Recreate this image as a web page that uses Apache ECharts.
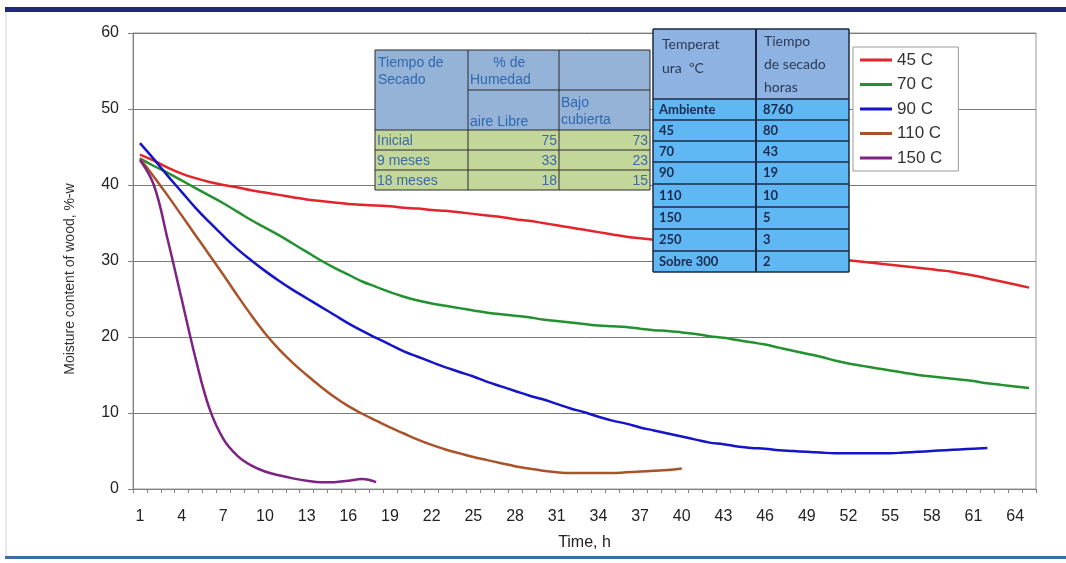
<!DOCTYPE html>
<html>
<head>
<meta charset="utf-8"/>
<title>Moisture content of wood</title>
<script src="https://cdn.jsdelivr.net/npm/echarts@6/dist/echarts.min.js"></script>
</head>
<body style="margin:0;background:#fff;">
<div id="chart" style="width:1066px;height:563px;"></div>
<script>
// horas 1..65 en el eje x
var hours = [];
for (var i = 1; i <= 65; i++) hours.push(String(i));

var seriesNames = ['45 C', '70 C', '90 C', '110 C', '150 C'];
var seriesColors = ['#e3252b', '#23912f', '#1414c8', '#a9532b', '#7d2384'];

var t45 = [44.0, 43.2, 42.3, 41.5, 40.9, 40.4, 40.0, 39.7, 39.3, 39.0, 38.7, 38.4, 38.1, 37.9, 37.7, 37.5, 37.4, 37.3, 37.2, 37.0,
	36.9, 36.7, 36.6, 36.4, 36.2, 36.0, 35.8, 35.5, 35.3, 35.0, 34.7, 34.4, 34.1, 33.8, 33.5, 33.2, 33.0, 32.8, 32.6, 32.4,
	32.2, 32.0, 31.8, 31.6, 31.4, 31.2, 31.0, 30.8, 30.7, 30.5, 30.3, 30.1, 29.9, 29.7, 29.5, 29.3, 29.1, 28.9, 28.7, 28.4,
	28.1, 27.7, 27.3, 26.9, 26.5];
var t70 = [43.5, 42.5, 41.6, 40.6, 39.6, 38.6, 37.6, 36.5, 35.4, 34.4, 33.4, 32.3, 31.2, 30.1, 29.1, 28.2, 27.3, 26.6, 25.9, 25.3,
	24.8, 24.4, 24.1, 23.8, 23.5, 23.2, 23.0, 22.8, 22.6, 22.3, 22.1, 21.9, 21.7, 21.5, 21.4, 21.3, 21.1, 20.9, 20.8, 20.6,
	20.4, 20.1, 19.9, 19.6, 19.3, 19.0, 18.6, 18.2, 17.8, 17.4, 16.9, 16.5, 16.2, 15.9, 15.6, 15.3, 15.0, 14.8, 14.6, 14.4,
	14.2, 13.9, 13.7, 13.5, 13.3];
var t90 = [45.5, 43.4, 41.2, 39.1, 37.0, 35.1, 33.3, 31.6, 30.1, 28.7, 27.4, 26.2, 25.1, 24.0, 22.9, 21.8, 20.8, 19.9, 19.0, 18.1,
	17.4, 16.7, 16.0, 15.4, 14.8, 14.1, 13.5, 12.9, 12.3, 11.8, 11.2, 10.6, 10.1, 9.5, 9.0, 8.6, 8.1, 7.7, 7.3, 6.9,
	6.5, 6.1, 5.9, 5.6, 5.4, 5.3, 5.1, 5.0, 4.9, 4.8, 4.7, 4.7, 4.7, 4.7, 4.7, 4.8, 4.9, 5.0, 5.1, 5.2,
	5.3, 5.4];
var t110 = [43.5, 41.1, 38.6, 36.0, 33.4, 30.8, 28.2, 25.5, 22.9, 20.5, 18.4, 16.6, 15.0, 13.5, 12.1, 10.9, 9.9, 9.0, 8.1, 7.3,
	6.5, 5.8, 5.2, 4.7, 4.2, 3.8, 3.4, 3.0, 2.7, 2.4, 2.2, 2.1, 2.1, 2.1, 2.1, 2.2, 2.3, 2.4, 2.5, 2.7];
var t150 = [43.3, 40.0, 32.8, 25.0, 17.2, 10.6, 6.6, 4.4, 3.1, 2.3, 1.8, 1.4, 1.1, 0.9, 0.9, 1.1, 1.3, 0.9];

// tablas superpuestas
var secadoHeader = [['Tiempo de\nSecado', '      % de\nHumedad', ''], ['', 'aire Libre', 'Bajo\ncubierta']];
var secadoRows = [['Inicial', '75', '73'], ['9 meses', '33', '23'], ['18 meses', '18', '15']];
var tempHeader = ['Temperat\nura  ºC', 'Tiempo\nde secado\nhoras'];
var tempRows = [['Ambiente', '8760'], ['45', '80'], ['70', '43'], ['90', '19'], ['110', '10'], ['150', '5'], ['250', '3'], ['Sobre 300', '2']];

var chart = echarts.init(document.getElementById('chart'));

function box(x, y, w, h, fill) {
	return { type: 'rect', z: 100, shape: { x: x, y: y, width: w, height: h }, style: { fill: fill } };
}
function seg(x1, y1, x2, y2, color, w) {
	return { type: 'line', z: 101, shape: { x1: x1, y1: y1, x2: x2, y2: y2 }, style: { stroke: color, lineWidth: w } };
}
function txt(x, y, s, st) {
	var style = { text: s, x: x, y: y, fill: '#2f68b0', font: '14px "Liberation Sans", Arial, sans-serif', textVerticalAlign: 'middle' };
	for (var k in st) style[k] = st[k];
	return { type: 'text', z: 102, style: style };
}

function buildGraphics() {
	var g = [];
	// marco de la diapositiva
	g.push({ type: 'rect', z: 1, shape: { x: 5, y: 7, width: 1061, height: 5 }, style: { fill: '#1f2a7c' } });
	g.push({ type: 'rect', z: 1, shape: { x: 5, y: 556, width: 1061, height: 3 }, style: { fill: '#3b6ea6' } });
	g.push({ type: 'line', z: 1, shape: { x1: 6, y1: 12, x2: 6, y2: 556 }, style: { stroke: '#c9d2e2', lineWidth: 1 } });

	// tabla 1 (tiempo de secado / humedad)
	var cx = [375, 468, 559, 650];
	var ry = [50, 90, 130, 150, 170, 190];
	var line1 = '#2b2b2b';
	g.push(box(cx[0], ry[0], cx[3] - cx[0], ry[2] - ry[0], '#95b3d7'));
	g.push(box(cx[0], ry[2], cx[3] - cx[0], ry[5] - ry[2], '#c4d79b'));
	g.push(seg(cx[0], ry[0], cx[3], ry[0], line1, 1));
	g.push(seg(cx[1], ry[1], cx[3], ry[1], line1, 1));
	for (var r = 2; r < ry.length; r++) g.push(seg(cx[0], ry[r], cx[3], ry[r], line1, 1));
	for (var c = 0; c < cx.length; c++) g.push(seg(cx[c], ry[0], cx[c], ry[5], line1, 1));
	g.push(txt(cx[0] + 3, ry[0] + 5, secadoHeader[0][0], { textVerticalAlign: 'top', lineHeight: 17 }));
	g.push(txt(cx[1] + 2, ry[0] + 5, secadoHeader[0][1], { textVerticalAlign: 'top', lineHeight: 17 }));
	g.push(txt(cx[1] + 2, ry[2] - 1, secadoHeader[1][1], { textVerticalAlign: 'bottom' }));
	g.push(txt(cx[2] + 2, ry[2] - 1, secadoHeader[1][2], { textVerticalAlign: 'bottom', lineHeight: 17 }));
	secadoRows.forEach(function (row, i) {
		var yc = (ry[i + 2] + ry[i + 3]) / 2 + 1;
		g.push(txt(cx[0] + 2, yc, row[0], { fill: '#3a6aa8' }));
		g.push(txt(cx[2] - 2, yc, row[1], { fill: '#3a6aa8', textAlign: 'right' }));
		g.push(txt(cx[3] - 2, yc, row[2], { fill: '#3a6aa8', textAlign: 'right' }));
	});

	// tabla 2 (temperatura / tiempo)
	var tx = [653, 756, 849];
	var ty = [29, 99, 120, 141, 162, 184, 207, 229, 251, 272];
	var line2 = '#1b2a44';
	g.push(box(tx[0], ty[0], tx[2] - tx[0], ty[1] - ty[0], '#8eb3e2'));
	g.push(box(tx[0], ty[1], tx[2] - tx[0], ty[9] - ty[1], '#5fb7f4'));
	for (var r2 = 0; r2 < ty.length; r2++) g.push(seg(tx[0], ty[r2], tx[2], ty[r2], line2, 1.5));
	g.push(seg(tx[0], ty[0], tx[0], ty[9], line2, 1.5));
	g.push(seg(tx[1], ty[0], tx[1], ty[9], line2, 2));
	g.push(seg(tx[2], ty[0], tx[2], ty[9], line2, 1.5));
	var hf = '14px Lato, "Open Sans", sans-serif';
	g.push(txt(tx[0] + 9, ty[0] + 3, tempHeader[0], { textVerticalAlign: 'top', lineHeight: 24, font: hf, fill: '#2c3a56' }));
	g.push(txt(tx[1] + 8, ty[0] + 1, tempHeader[1], { textVerticalAlign: 'top', lineHeight: 23, font: hf, fill: '#2c3a56' }));
	tempRows.forEach(function (row, i) {
		var yc = (ty[i + 1] + ty[i + 2]) / 2;
		var bf = 'bold 13px Lato, "Open Sans", sans-serif';
		g.push(txt(tx[0] + 6, yc, row[0], { font: bf, fill: '#1b2a4c' }));
		g.push(txt(tx[1] + 7, yc, row[1], { font: bf, fill: '#1b2a4c' }));
	});
	return g;
}

var axisFont = '"Liberation Sans", Arial, sans-serif';
var dataSets = [t45, t70, t90, t110, t150];

var option = {
	backgroundColor: '#fff',
	animation: false,
	grid: { left: 133, right: 30, top: 33, bottom: 74, show: true, borderColor: '#999', borderWidth: 1 },
	legend: {
		orient: 'vertical',
		left: 853,
		top: 47,
		padding: [4, 16, 4, 7],
		itemWidth: 32,
		itemHeight: 3,
		itemGap: 6.5,
		icon: 'rect',
		borderColor: '#9a9a9a',
		borderWidth: 1,
		backgroundColor: '#fff',
		textStyle: { fontSize: 17, color: '#333', fontFamily: axisFont, lineHeight: 18 },
		data: seriesNames
	},
	xAxis: {
		type: 'category',
		data: hours,
		boundaryGap: true,
		name: 'Time, h',
		nameLocation: 'middle',
		nameGap: 46,
		nameTextStyle: { fontSize: 16, color: '#222', fontFamily: axisFont },
		axisLine: { lineStyle: { color: '#808080', width: 1 } },
		axisTick: { show: true, interval: 0, length: 4, lineStyle: { color: '#808080' } },
		axisLabel: { interval: 2, fontSize: 16, color: '#222', fontFamily: axisFont, margin: 20 },
		splitLine: { show: false }
	},
	yAxis: {
		type: 'value',
		min: 0,
		max: 60,
		interval: 10,
		name: 'Moisture content of wood, %-w',
		nameLocation: 'middle',
		nameGap: 56,
		nameTextStyle: { fontSize: 14, color: '#333', fontFamily: axisFont, padding: [0, 36, 0, 0] },
		axisLine: { show: true, lineStyle: { color: '#808080', width: 1 } },
		axisTick: { show: true, length: 5, lineStyle: { color: '#808080' } },
		axisLabel: { fontSize: 16, color: '#222', fontFamily: axisFont, margin: 14 },
		splitLine: { show: true, lineStyle: { color: '#7a7a7a', width: 1 } }
	},
	series: seriesNames.map(function (n, i) {
		return {
			name: n,
			type: 'line',
			data: dataSets[i],
			smooth: 0.4,
			symbol: 'none',
			color: seriesColors[i],
			lineStyle: { width: 2.5, color: seriesColors[i] }
		};
	}),
	graphic: buildGraphics()
};

chart.setOption(option);
</script>
</body>
</html>
